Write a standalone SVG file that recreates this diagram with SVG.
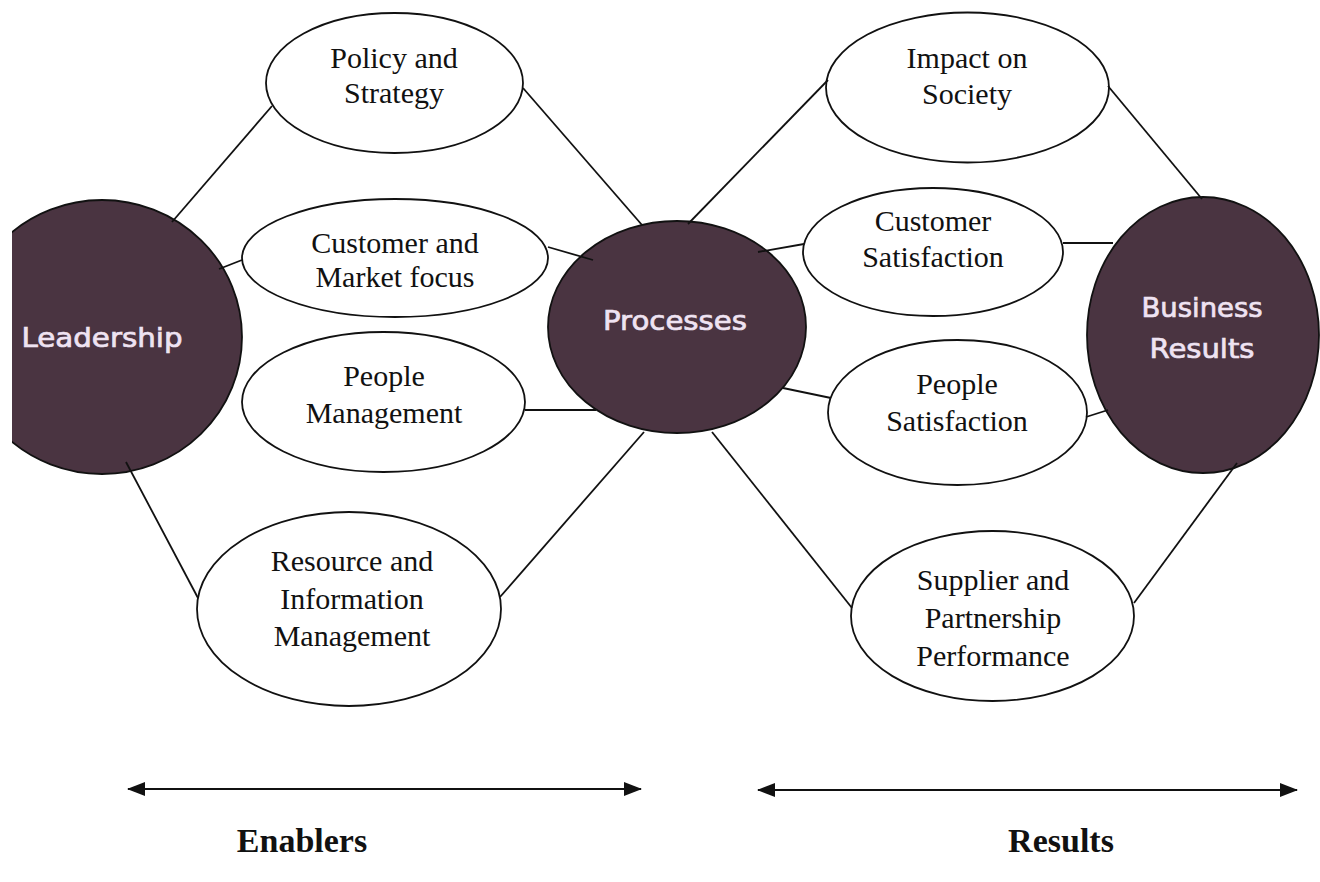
<svg xmlns="http://www.w3.org/2000/svg" width="1320" height="882" viewBox="0 0 1320 882">
<style>
.w{fill:#ffffff;stroke:#111;stroke-width:1.8}
.d{fill:#4a3441;stroke:#111;stroke-width:1.8}
.t{font-family:"Liberation Serif","Times New Roman",serif;font-size:30px;fill:#111;text-anchor:middle}
.c{font-family:"Comic Sans MS","DejaVu Sans",sans-serif;font-size:26px;fill:#efe3f2;stroke:#efe3f2;stroke-width:0.7;text-anchor:middle}
.b{font-family:"Liberation Serif","Times New Roman",serif;font-size:34px;font-weight:bold;fill:#111;text-anchor:middle}
.l{stroke:#111;stroke-width:1.8;fill:none}
.a{stroke:#111;stroke-width:2.2;fill:none;marker-start:url(#ah);marker-end:url(#ah)}
</style>
<defs>
<clipPath id="clipL"><rect x="12" y="0" width="400" height="882"/></clipPath>
<marker id="ah" viewBox="0 0 18 14" refX="17" refY="7" markerWidth="18" markerHeight="14" markerUnits="userSpaceOnUse" orient="auto-start-reverse">
<path d="M0,0 L18,7 L0,14 z" fill="#111"/>
</marker>
</defs>
<rect width="1320" height="882" fill="#ffffff"/>

<g id="leadership">
<ellipse class="d" cx="102" cy="337" rx="140" ry="137" clip-path="url(#clipL)"/>
<text class="c" x="102" y="347" textLength="161" lengthAdjust="spacingAndGlyphs">Leadership</text>
</g>
<g id="processes">
<ellipse class="d" cx="677" cy="327" rx="129" ry="106"/>
<text class="c" x="675" y="330" textLength="144" lengthAdjust="spacingAndGlyphs">Processes</text>
</g>
<g id="business-results">
<ellipse class="d" cx="1203" cy="335" rx="116" ry="138"/>
<text class="c" x="1202" y="317" textLength="121" lengthAdjust="spacingAndGlyphs">Business</text>
<text class="c" x="1202" y="358" textLength="105" lengthAdjust="spacingAndGlyphs">Results</text>
</g>

<g id="policy-strategy">
<ellipse class="w" cx="394.5" cy="83" rx="128.5" ry="70"/>
<text class="t" x="394" y="68">Policy and</text>
<text class="t" x="394" y="103">Strategy</text>
</g>
<g id="customer-market">
<ellipse class="w" cx="395" cy="258" rx="153" ry="59"/>
<text class="t" x="395" y="253">Customer and</text>
<text class="t" x="395" y="287">Market focus</text>
</g>
<g id="people-management">
<ellipse class="w" cx="383.5" cy="402" rx="141.5" ry="70"/>
<text class="t" x="384" y="386">People</text>
<text class="t" x="384" y="423">Management</text>
</g>
<g id="resource-information">
<ellipse class="w" cx="349" cy="609" rx="152" ry="97"/>
<text class="t" x="352" y="571">Resource and</text>
<text class="t" x="352" y="609">Information</text>
<text class="t" x="352" y="646">Management</text>
</g>
<g id="impact-society">
<ellipse class="w" cx="967.5" cy="87.5" rx="141.5" ry="75"/>
<text class="t" x="967" y="68">Impact on</text>
<text class="t" x="967" y="104">Society</text>
</g>
<g id="customer-satisfaction">
<ellipse class="w" cx="933" cy="252" rx="130" ry="64"/>
<text class="t" x="933" y="231">Customer</text>
<text class="t" x="933" y="267">Satisfaction</text>
</g>
<g id="people-satisfaction">
<ellipse class="w" cx="957.5" cy="412.5" rx="129.5" ry="72.5"/>
<text class="t" x="957" y="394">People</text>
<text class="t" x="957" y="431">Satisfaction</text>
</g>
<g id="supplier-partnership">
<ellipse class="w" cx="992.5" cy="616" rx="141.5" ry="85"/>
<text class="t" x="993" y="590">Supplier and</text>
<text class="t" x="993" y="628">Partnership</text>
<text class="t" x="993" y="666">Performance</text>
</g>

<g id="connectors">
<line class="l" x1="172" y1="222" x2="272" y2="106"/>
<line class="l" x1="523" y1="88" x2="642" y2="225"/>
<line class="l" x1="219" y1="269" x2="242" y2="260"/>
<line class="l" x1="548" y1="247" x2="593" y2="260"/>
<line class="l" x1="525" y1="410" x2="596" y2="410"/>
<line class="l" x1="126" y1="462" x2="198" y2="598"/>
<line class="l" x1="500" y1="597" x2="644" y2="432"/>
<line class="l" x1="688" y1="224" x2="828" y2="80"/>
<line class="l" x1="1108" y1="86" x2="1202" y2="199"/>
<line class="l" x1="758" y1="252" x2="804" y2="244"/>
<line class="l" x1="1063" y1="243" x2="1113" y2="243"/>
<line class="l" x1="783" y1="388" x2="831" y2="398"/>
<line class="l" x1="1086" y1="417" x2="1108" y2="410"/>
<line class="l" x1="712" y1="432" x2="852" y2="608"/>
<line class="l" x1="1134" y1="603" x2="1237" y2="463"/>
</g>

<g id="enablers-axis">
<line class="a" x1="128" y1="789" x2="641" y2="789"/>
<text class="b" x="302" y="852">Enablers</text>
</g>
<g id="results-axis">
<line class="a" x1="758" y1="790" x2="1297" y2="790"/>
<text class="b" x="1061" y="852">Results</text>
</g>
</svg>
